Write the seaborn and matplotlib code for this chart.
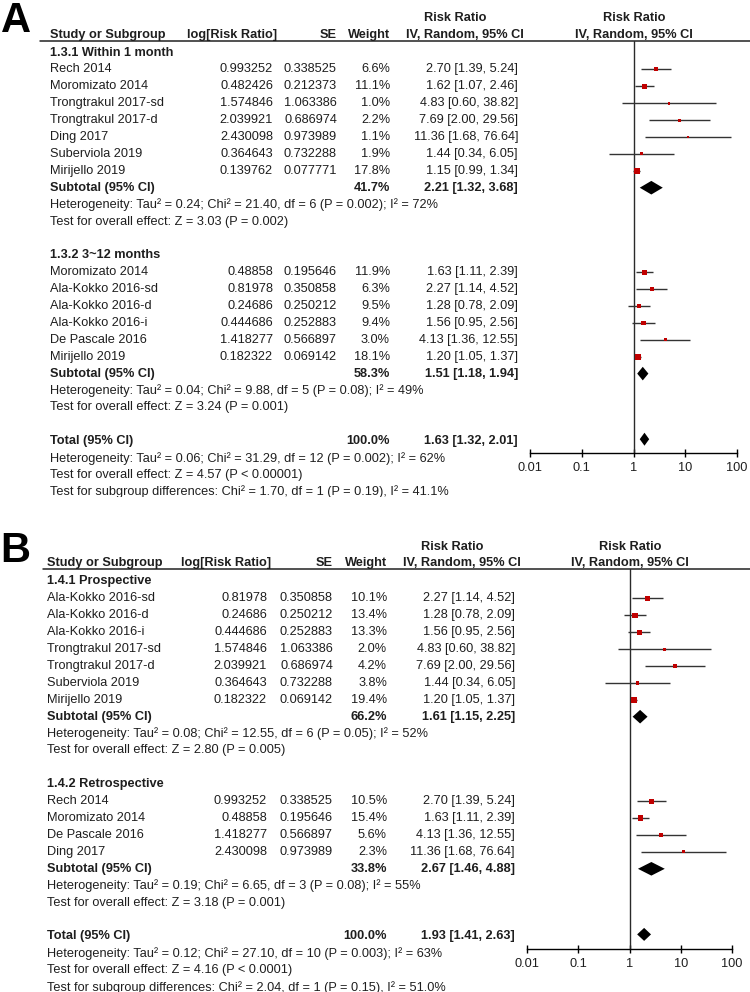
import matplotlib
matplotlib.use("Agg")  # headless
import matplotlib.pyplot as plt
import seaborn as sns

# ---------------------------------------------------------------------------
# Data — panel A (follow-up time)
# ---------------------------------------------------------------------------
A1_TITLE = "1.3.1 Within 1 month"
A1_STUDY = ["Rech 2014", "Moromizato 2014", "Trongtrakul 2017-sd", "Trongtrakul 2017-d",
            "Ding 2017", "Suberviola 2019", "Mirijello 2019"]
A1_LOGRR = [0.993252, 0.482426, 1.574846, 2.039921, 2.430098, 0.364643, 0.139762]
A1_SE = [0.338525, 0.212373, 1.063386, 0.686974, 0.973989, 0.732288, 0.077771]
A1_WEIGHT = [6.6, 11.1, 1.0, 2.2, 1.1, 1.9, 17.8]
A1_RR = [2.70, 1.62, 4.83, 7.69, 11.36, 1.44, 1.15]
A1_LO = [1.39, 1.07, 0.60, 2.00, 1.68, 0.34, 0.99]
A1_HI = [5.24, 2.46, 38.82, 29.56, 76.64, 6.05, 1.34]
A1_SUB = [41.7, 2.21, 1.32, 3.68]  # weight, RR, lo, hi
A1_HET = "Heterogeneity: Tau² = 0.24; Chi² = 21.40, df = 6 (P = 0.002); I² = 72%"
A1_Z = "Test for overall effect: Z = 3.03 (P = 0.002)"

A2_TITLE = "1.3.2 3~12 months"
A2_STUDY = ["Moromizato 2014", "Ala-Kokko 2016-sd", "Ala-Kokko 2016-d", "Ala-Kokko 2016-i",
            "De Pascale 2016", "Mirijello 2019"]
A2_LOGRR = [0.48858, 0.81978, 0.24686, 0.444686, 1.418277, 0.182322]
A2_SE = [0.195646, 0.350858, 0.250212, 0.252883, 0.566897, 0.069142]
A2_WEIGHT = [11.9, 6.3, 9.5, 9.4, 3.0, 18.1]
A2_RR = [1.63, 2.27, 1.28, 1.56, 4.13, 1.20]
A2_LO = [1.11, 1.14, 0.78, 0.95, 1.36, 1.05]
A2_HI = [2.39, 4.52, 2.09, 2.56, 12.55, 1.37]
A2_SUB = [58.3, 1.51, 1.18, 1.94]
A2_HET = "Heterogeneity: Tau² = 0.04; Chi² = 9.88, df = 5 (P = 0.08); I² = 49%"
A2_Z = "Test for overall effect: Z = 3.24 (P = 0.001)"

A_TOTAL = [100.0, 1.63, 1.32, 2.01]
A_TOTAL_NOTES = ["Heterogeneity: Tau² = 0.06; Chi² = 31.29, df = 12 (P = 0.002); I² = 62%",
                 "Test for overall effect: Z = 4.57 (P < 0.00001)",
                 "Test for subgroup differences: Chi² = 1.70, df = 1 (P = 0.19), I² = 41.1%"]

# ---------------------------------------------------------------------------
# Data — panel B (study design)
# ---------------------------------------------------------------------------
B1_TITLE = "1.4.1 Prospective"
B1_STUDY = ["Ala-Kokko 2016-sd", "Ala-Kokko 2016-d", "Ala-Kokko 2016-i", "Trongtrakul 2017-sd",
            "Trongtrakul 2017-d", "Suberviola 2019", "Mirijello 2019"]
B1_LOGRR = [0.81978, 0.24686, 0.444686, 1.574846, 2.039921, 0.364643, 0.182322]
B1_SE = [0.350858, 0.250212, 0.252883, 1.063386, 0.686974, 0.732288, 0.069142]
B1_WEIGHT = [10.1, 13.4, 13.3, 2.0, 4.2, 3.8, 19.4]
B1_RR = [2.27, 1.28, 1.56, 4.83, 7.69, 1.44, 1.20]
B1_LO = [1.14, 0.78, 0.95, 0.60, 2.00, 0.34, 1.05]
B1_HI = [4.52, 2.09, 2.56, 38.82, 29.56, 6.05, 1.37]
B1_SUB = [66.2, 1.61, 1.15, 2.25]
B1_HET = "Heterogeneity: Tau² = 0.08; Chi² = 12.55, df = 6 (P = 0.05); I² = 52%"
B1_Z = "Test for overall effect: Z = 2.80 (P = 0.005)"

B2_TITLE = "1.4.2 Retrospective"
B2_STUDY = ["Rech 2014", "Moromizato 2014", "De Pascale 2016", "Ding 2017"]
B2_LOGRR = [0.993252, 0.48858, 1.418277, 2.430098]
B2_SE = [0.338525, 0.195646, 0.566897, 0.973989]
B2_WEIGHT = [10.5, 15.4, 5.6, 2.3]
B2_RR = [2.70, 1.63, 4.13, 11.36]
B2_LO = [1.39, 1.11, 1.36, 1.68]
B2_HI = [5.24, 2.39, 12.55, 76.64]
B2_SUB = [33.8, 2.67, 1.46, 4.88]
B2_HET = "Heterogeneity: Tau² = 0.19; Chi² = 6.65, df = 3 (P = 0.08); I² = 55%"
B2_Z = "Test for overall effect: Z = 3.18 (P = 0.001)"

B_TOTAL = [100.0, 1.93, 1.41, 2.63]
B_TOTAL_NOTES = ["Heterogeneity: Tau² = 0.12; Chi² = 27.10, df = 10 (P = 0.003); I² = 63%",
                 "Test for overall effect: Z = 4.16 (P < 0.0001)",
                 "Test for subgroup differences: Chi² = 2.04, df = 1 (P = 0.15), I² = 51.0%"]

AXIS_TICKS = [0.01, 0.1, 1, 10, 100]
AXIS_LABELS = ["0.01", "0.1", "1", "10", "100"]

# ---------------------------------------------------------------------------
# Layout (pixel coordinates of the 750x992 canvas)
# ---------------------------------------------------------------------------
W, H = 750, 992
TEXT = "#1e1e1e"
RED = "#c00000"
FS = 9.15

LAYOUT_A = dict(letter=(16, 21), head1=18, head2=35, line_y=41, line_x0=40,
                row0=52.5, step=16.9, clip=(0, 497), axis_y=453, fx=(530, 737),
                name=50, logrr=273, se=337, weight=390, ci=518, hlog=277,
                rr_head=455, iv_head=465, forest_head=634)
LAYOUT_B = dict(letter=(15, 551), head1=547, head2=563, line_y=569, line_x0=43,
                row0=581.5, step=16.9, clip=(500, 992), axis_y=949, fx=(527, 732),
                name=47, logrr=267, se=333, weight=387, ci=515, hlog=271,
                rr_head=452, iv_head=462, forest_head=630)


def subgroup(title, study, logrr, se, weight, rr, lo, hi, sub, het, z):
    return dict(title=title, study=study, logrr=logrr, se=se, weight=weight,
                rr=rr, lo=lo, hi=hi, sub=sub, het=het, z=z)


def fmt_ci(rr, lo, hi):
    return f"{rr:.2f} [{lo:.2f}, {hi:.2f}]"


def diamond(ax, y, rr, lo, hi, half=6.8):
    ax.fill([lo, rr, hi, rr], [y, y - half, y, y + half], color="black", lw=0, zorder=4)


def draw_panel(fig, letter, groups, total, total_notes, L):
    y_lo, y_hi = L["clip"]
    tax = fig.add_axes([0, 1 - y_hi / H, 1, (y_hi - y_lo) / H])
    tax.set_xlim(0, W)
    tax.set_ylim(y_hi, y_lo)
    tax.axis("off")

    fx0, fx1 = L["fx"]
    fax = fig.add_axes([fx0 / W, 1 - L["axis_y"] / H, (fx1 - fx0) / W,
                        (L["axis_y"] - L["line_y"]) / H])
    fax.set_xscale("log")
    fax.set_xlim(0.01, 100)
    fax.set_ylim(L["axis_y"], L["line_y"])
    fax.patch.set_alpha(0)

    def txt(x, y, s, ha="left", bold=False):
        tax.text(x, y, s, ha=ha, va="center", fontsize=FS, color=TEXT,
                 fontweight="bold" if bold else "normal", clip_on=True)

    tax.text(*L["letter"], letter, ha="center", va="center", fontsize=30,
             fontweight="bold", color="black")

    # column headers
    txt(L["rr_head"], L["head1"], "Risk Ratio", ha="center", bold=True)
    txt(L["forest_head"], L["head1"], "Risk Ratio", ha="center", bold=True)
    txt(L["name"], L["head2"], "Study or Subgroup", bold=True)
    txt(L["hlog"], L["head2"], "log[Risk Ratio]", ha="right", bold=True)
    txt(L["se"], L["head2"], "SE", ha="right", bold=True)
    txt(L["weight"], L["head2"], "Weight", ha="right", bold=True)
    txt(L["iv_head"], L["head2"], "IV, Random, 95% CI", ha="center", bold=True)
    txt(L["forest_head"], L["head2"], "IV, Random, 95% CI", ha="center", bold=True)
    tax.plot([L["line_x0"], W], [L["line_y"]] * 2, color="#222222", lw=1.1)

    def ry(r):
        return L["row0"] + r * L["step"]

    row = 0
    for g in groups:
        txt(L["name"], ry(row), g["title"], bold=True)
        row += 1
        ys = []
        for i, name in enumerate(g["study"]):
            y = ry(row)
            ys.append(y)
            txt(L["name"], y, name)
            txt(L["logrr"], y, f"{g['logrr'][i]}", ha="right")
            txt(L["se"], y, f"{g['se'][i]}", ha="right")
            txt(L["weight"], y, f"{g['weight'][i]:.1f}%", ha="right")
            txt(L["ci"], y, fmt_ci(g["rr"][i], g["lo"][i], g["hi"][i]), ha="right")
            row += 1
        fax.hlines(ys, g["lo"], g["hi"], color="#333333", lw=1.0, zorder=2)
        # box area grows with study weight
        w = g["weight"]
        sns.scatterplot(x=g["rr"], y=ys, size=w,
                        sizes=(0.8 * min(w) + 3, 0.8 * max(w) + 3),
                        size_norm=(min(w), max(w)), marker="s", color=RED,
                        edgecolor="none", linewidth=0, legend=False, ax=fax, zorder=3)
        sw, srr, slo, shi = g["sub"]
        y = ry(row)
        txt(L["name"], y, "Subtotal (95% CI)", bold=True)
        txt(L["weight"], y, f"{sw:.1f}%", ha="right", bold=True)
        txt(L["ci"], y, fmt_ci(srr, slo, shi), ha="right", bold=True)
        diamond(fax, y, srr, slo, shi)
        row += 1
        txt(L["name"], ry(row), g["het"])
        row += 1
        txt(L["name"], ry(row), g["z"])
        row += 2

    tw, trr, tlo, thi = total
    y = ry(row)
    txt(L["name"], y, "Total (95% CI)", bold=True)
    txt(L["weight"], y, f"{tw:.1f}%", ha="right", bold=True)
    txt(L["ci"], y, fmt_ci(trr, tlo, thi), ha="right", bold=True)
    diamond(fax, y - 2, trr, tlo, thi, half=6.5)
    for note in total_notes:
        row += 1
        txt(L["name"], ry(row), note)

    # forest axis
    fax.axvline(1, color="#2a2a2a", lw=1.0, zorder=1)
    for side in ("top", "left", "right"):
        fax.spines[side].set_visible(False)
    fax.spines["bottom"].set_color("black")
    fax.spines["bottom"].set_linewidth(1.0)
    fax.set_xticks(AXIS_TICKS)
    fax.set_xticklabels(AXIS_LABELS)
    fax.minorticks_off()
    fax.set_yticks([])
    fax.tick_params(axis="x", direction="inout", length=6, width=1.0, pad=3.5,
                    labelsize=FS, colors="black", bottom=True)
    for lab in fax.get_xticklabels():
        lab.set_color(TEXT)


sns.set_theme(style="ticks")
plt.rcParams["font.family"] = ["Liberation Sans", "DejaVu Sans"]

fig = plt.figure(figsize=(W / 100, H / 100), dpi=100)
fig.patch.set_facecolor("white")

groups_a = [
    subgroup(A1_TITLE, A1_STUDY, A1_LOGRR, A1_SE, A1_WEIGHT, A1_RR, A1_LO, A1_HI, A1_SUB, A1_HET, A1_Z),
    subgroup(A2_TITLE, A2_STUDY, A2_LOGRR, A2_SE, A2_WEIGHT, A2_RR, A2_LO, A2_HI, A2_SUB, A2_HET, A2_Z),
]
groups_b = [
    subgroup(B1_TITLE, B1_STUDY, B1_LOGRR, B1_SE, B1_WEIGHT, B1_RR, B1_LO, B1_HI, B1_SUB, B1_HET, B1_Z),
    subgroup(B2_TITLE, B2_STUDY, B2_LOGRR, B2_SE, B2_WEIGHT, B2_RR, B2_LO, B2_HI, B2_SUB, B2_HET, B2_Z),
]

draw_panel(fig, "A", groups_a, A_TOTAL, A_TOTAL_NOTES, LAYOUT_A)
draw_panel(fig, "B", groups_b, B_TOTAL, B_TOTAL_NOTES, LAYOUT_B)

fig.savefig("out.png", dpi=100, facecolor="white")
